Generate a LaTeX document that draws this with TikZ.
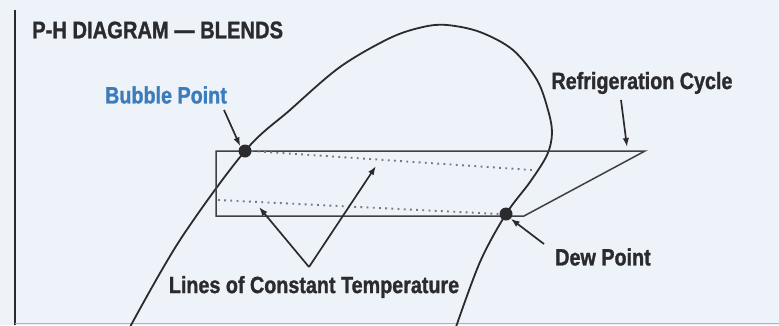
\documentclass[tikz,border=0pt]{standalone}
\usepackage{fontspec}
\setmainfont{Liberation Sans}[FakeStretch=0.84, BoldFeatures={FakeBold=1.2}]
\usepackage{xcolor}
\usepackage{tikz}
\usetikzlibrary{arrows.meta, positioning, calc}
\definecolor{bgfill}{HTML}{EEF2F9}
\definecolor{inkdark}{HTML}{2B2B2E}
\definecolor{bubbleblue}{HTML}{3B7CBC}
\definecolor{dotgray}{HTML}{75787F}

\begin{document}
\begin{tikzpicture}[
        x=1pt, y=-1pt,
        % --- Style Definitions ---
        title_style/.style={font=\fontsize{24}{26}\selectfont\bfseries, text=inkdark, inner sep=0pt},
        label_style/.style={font=\fontsize{23.5}{25}\selectfont\bfseries, text=inkdark, inner sep=0pt},
        curve_style/.style={draw=inkdark, line width=1.8pt},
        cycle_style/.style={draw=inkdark!90, line width=1.5pt},
        dotted_style/.style={draw=dotgray, line width=1.9pt, dash pattern=on 1.8pt off 4.4pt},
        point_style/.style={circle, fill=inkdark, inner sep=0pt, minimum size=13pt},
        arrow/.style={draw=inkdark, line width=1.7pt, -{Latex[length=9pt, width=6.5pt]}}
    ]

        % --- Frame and background ---
        \fill[bgfill] (0,0) rectangle (779,325);
        \useasboundingbox (0,0) rectangle (779,325);
        \draw[inkdark, line width=2.6pt] (15,10) -- (15,325);
        \draw[black!30, line width=1pt] (15,323.5) -- (779,323.5);

        % --- Title ---
        \node[title_style, anchor=west] (title) at (32,30) {P-H DIAGRAM — BLENDS};

        % --- Saturation dome ---
        \draw[curve_style] plot[smooth, tension=0.55] coordinates {
            (130,327) (180,240) (245,151) (290,110) (340,67) (390,38) (423,27)
            (447,25) (480,32) (513,50) (537,80) (548,110) (552,133) (547,155)
            (530,182) (506,214) (480,262) (456,327)};

        % --- Refrigeration cycle ---
        \coordinate (cyc_tl) at (216,151);
        \coordinate (cyc_tr) at (645,151);
        \coordinate (cyc_bl) at (216,216);
        \coordinate (cyc_br) at (524,216);
        \draw[cycle_style] (cyc_br) -- (cyc_bl) -- (cyc_tl) -- (cyc_tr) -- cycle;

        % --- Bubble and dew points ---
        \node[point_style] (bubble) at (245,151) {};
        \node[point_style] (dew) at (506,214) {};

        % --- Lines of constant temperature ---
        \coordinate (upper_end) at (532,170);
        \coordinate (lower_start) at (218,200);
        \draw[dotted_style] (bubble.east) -- (upper_end);
        \draw[dotted_style] (lower_start) -- (dew.west);

        % --- Labels ---
        \node[label_style, text=bubbleblue] (bubble_lbl) at (166,95) {Bubble Point};
        \node[label_style] (cycle_lbl) at (642,83) {Refrigeration Cycle};
        \node[label_style] (dew_lbl) at (603,257) {Dew Point};
        \node[label_style] (lines_lbl) at (314,287) {Lines of Constant Temperature};

        % --- Pointer arrows ---
        \coordinate (bubble_tail) at (224,110);
        \coordinate (cycle_tail) at (621,100);
        \coordinate (cycle_head) at (627,147);
        \coordinate (dew_tail) at (544,244);
        \coordinate (lines_vertex) at (309,267);
        \coordinate (lines_left) at (259,207);
        \coordinate (lines_right) at (376,166);
        \draw[arrow] (bubble_tail) -- (bubble.north west);
        \draw[arrow] (cycle_tail) -- (cycle_head);
        \draw[arrow] (dew_tail) -- (dew.south east);
        \draw[arrow] (lines_vertex) -- (lines_left);
        \draw[arrow] (lines_vertex) -- (lines_right);

    \end{tikzpicture}
\end{document}
